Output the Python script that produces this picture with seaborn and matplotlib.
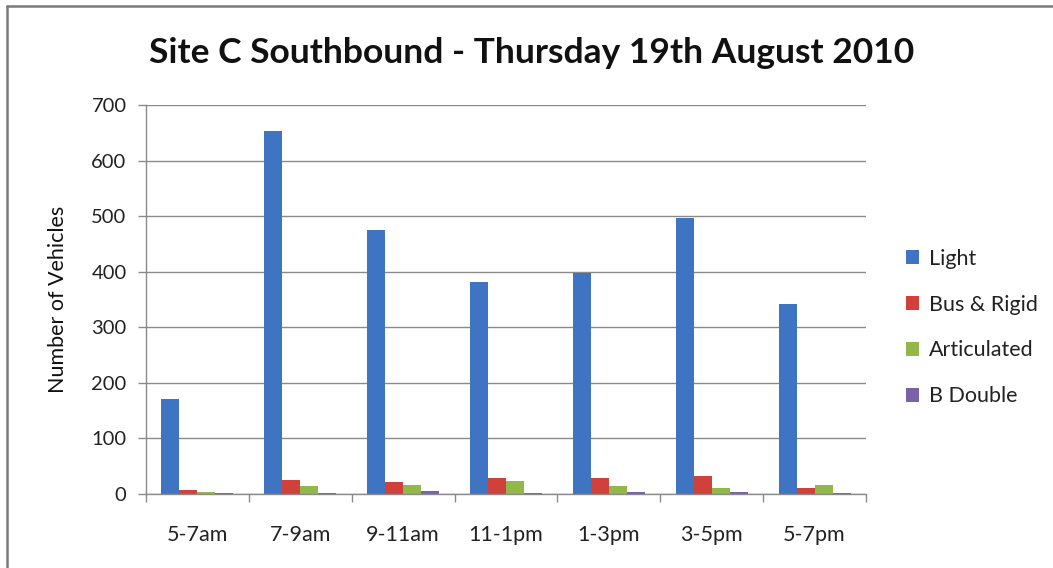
import matplotlib
matplotlib.use("Agg")
import matplotlib.pyplot as plt
from matplotlib.lines import Line2D
from matplotlib.ticker import MultipleLocator, FixedLocator
import seaborn as sns
import pandas as pd
import numpy as np

# Vehicle counts per two-hour period, southbound
periods = ["5-7am", "7-9am", "9-11am", "11-1pm", "1-3pm", "3-5pm", "5-7pm"]
light = [171, 653, 475, 382, 398, 497, 342]
bus_rigid = [7, 25, 22, 29, 29, 32, 10]
articulated = [4, 14, 16, 23, 14, 10, 16]
b_double = [1, 2, 5, 1, 3, 3, 2]
classes = ["Light", "Bus & Rigid", "Articulated", "B Double"]
colors = ["#3F74C2", "#D0413B", "#93B84A", "#7A62A8"]

df = pd.DataFrame({
    "Period": periods * 4,
    "Class": [c for c in classes for _ in periods],
    "Count": light + bus_rigid + articulated + b_double,
})

sns.set_theme(style="white")
plt.rcParams["font.family"] = ["Lato", "DejaVu Sans"]

fig = plt.figure(figsize=(10.53, 5.68), dpi=100)
ax = fig.add_axes([0.1387, 0.1303, 0.6837, 0.6848])

sns.barplot(data=df, x="Period", y="Count", hue="Class", order=periods,
            hue_order=classes, palette=colors, width=0.7, gap=0,
            saturation=1, edgecolor="none", ax=ax, legend=True)

ax.set_xlim(-0.5, len(periods) - 0.5)
ax.set_ylim(0, 700)
ax.yaxis.set_major_locator(MultipleLocator(100))
ax.grid(axis="y", color="#8a8a8a", linewidth=1.0)
ax.set_axisbelow(True)
for side in ["top", "right"]:
    ax.spines[side].set_visible(False)
for side in ["left", "bottom"]:
    ax.spines[side].set_color("#8a8a8a")
    ax.spines[side].set_linewidth(1.0)

# Category-boundary tick marks on the x axis, labels centred
ax.xaxis.set_minor_locator(FixedLocator(np.arange(-0.5, len(periods), 1.0)))
ax.tick_params(axis="x", which="major", length=0, pad=22, labelsize=15.5, labelcolor="#222222")
ax.tick_params(axis="x", which="minor", length=6, width=1, color="#8a8a8a", direction="out", bottom=True)
ax.tick_params(axis="y", which="major", length=6, width=1, color="#8a8a8a", direction="out",
               left=True, pad=8, labelsize=14.5, labelcolor="#222222")

ax.set_xlabel("")
ax.set_ylabel("Number of Vehicles", fontsize=15.5, color="#111111", labelpad=17)

fig.suptitle("Site C Southbound - Thursday 19th August 2010", x=0.505, y=0.934,
             fontsize=25.5, fontweight="bold", color="#111111")

leg = ax.legend(loc="center left", bbox_to_anchor=(1.028, 0.428), frameon=False,
                fontsize=15.5, handlelength=0.62, handleheight=0.62, handletextpad=0.45,
                labelspacing=1.2)
for t in leg.get_texts():
    t.set_color("#222222")

# Chart-area frame: left and top edges
fig.add_artist(Line2D([0.0068, 0.0068], [0.0, 0.989], transform=fig.transFigure,
                      color="#7a7a7a", linewidth=1.8))
fig.add_artist(Line2D([0.0068, 1.0], [0.989, 0.989], transform=fig.transFigure,
                      color="#7a7a7a", linewidth=1.8))

fig.savefig("out.png", dpi=100, facecolor="white")
